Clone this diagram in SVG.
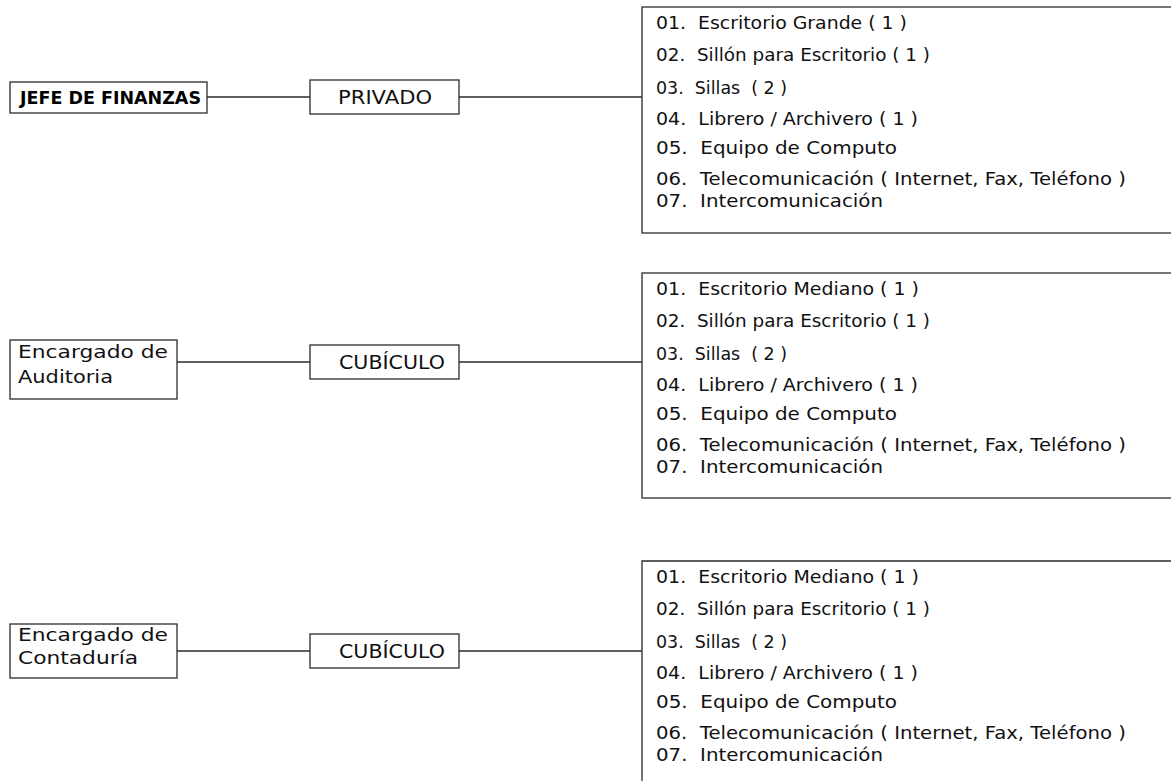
<svg xmlns="http://www.w3.org/2000/svg" width="1171" height="783" viewBox="0 0 1171 783">
  <style>
    text { white-space: pre; }
    .box { fill: #ffffff; stroke: #2b2b2b; stroke-width: 1.3; }
    .wire { stroke: #2b2b2b; stroke-width: 1.5; fill: none; }
    .item { font-family: "DejaVu Sans", "Liberation Sans", sans-serif; font-size: 17.5px; fill: #111; }
    .who { font-family: "DejaVu Sans", "Liberation Sans", sans-serif; font-size: 18px; fill: #111; }
    .boss { font-family: "DejaVu Sans", "Liberation Sans", sans-serif; font-size: 17px; font-weight: bold; fill: #000; }
    .room { font-family: "DejaVu Sans", "Liberation Sans", sans-serif; font-size: 19px; fill: #111; text-anchor: middle; }
  </style>
  <rect width="1171" height="783" fill="#ffffff"/>

  <!-- connectors -->
  <g id="connectors">
    <line class="wire" x1="207" y1="97" x2="310" y2="97"/>
    <line class="wire" x1="459" y1="97" x2="642" y2="97"/>
    <line class="wire" x1="177" y1="362" x2="310" y2="362"/>
    <line class="wire" x1="459" y1="362" x2="642" y2="362"/>
    <line class="wire" x1="177" y1="651" x2="310" y2="651"/>
    <line class="wire" x1="459" y1="651" x2="642" y2="651"/>
  </g>

  <!-- row 1: head of finance -->
  <g id="jefe-finanzas">
    <rect class="box" x="10" y="82" width="197" height="31"/>
    <text class="boss" x="20" y="104" textLength="181" lengthAdjust="spacingAndGlyphs">JEFE DE FINANZAS</text>
  </g>
  <g id="privado">
    <rect class="box" x="310" y="80" width="149" height="34"/>
    <text class="room" x="385" y="104" textLength="94" lengthAdjust="spacingAndGlyphs">PRIVADO</text>
  </g>
  <g id="equipo-privado">
    <rect class="box" x="642" y="7" width="600" height="226"/>
    <text class="item" x="656" y="29" textLength="251" lengthAdjust="spacingAndGlyphs">01.  Escritorio Grande ( 1 )</text>
    <text class="item" x="656" y="61" textLength="274" lengthAdjust="spacingAndGlyphs">02.  Sillón para Escritorio ( 1 )</text>
    <text class="item" x="656" y="94" textLength="131" lengthAdjust="spacingAndGlyphs">03.  Sillas  ( 2 )</text>
    <text class="item" x="656" y="125" textLength="262" lengthAdjust="spacingAndGlyphs">04.  Librero / Archivero ( 1 )</text>
    <text class="item" x="656" y="154" textLength="241" lengthAdjust="spacingAndGlyphs">05.  Equipo de Computo</text>
    <text class="item" x="656" y="185" textLength="470" lengthAdjust="spacingAndGlyphs">06.  Telecomunicación ( Internet, Fax, Teléfono )</text>
    <text class="item" x="656" y="207" textLength="227" lengthAdjust="spacingAndGlyphs">07.  Intercomunicación</text>
  </g>

  <!-- row 2: audit -->
  <g id="encargado-auditoria">
    <rect class="box" x="10" y="340" width="167" height="59"/>
    <text class="who" x="18" y="358" textLength="150" lengthAdjust="spacingAndGlyphs">Encargado de</text>
    <text class="who" x="18" y="383" textLength="95" lengthAdjust="spacingAndGlyphs">Auditoria</text>
  </g>
  <g id="cubiculo-auditoria">
    <rect class="box" x="310" y="345" width="149" height="34"/>
    <text class="room" x="392" y="369" textLength="106" lengthAdjust="spacingAndGlyphs">CUBÍCULO</text>
  </g>
  <g id="equipo-auditoria">
    <rect class="box" x="642" y="273" width="600" height="225"/>
    <text class="item" x="656" y="295" textLength="263" lengthAdjust="spacingAndGlyphs">01.  Escritorio Mediano ( 1 )</text>
    <text class="item" x="656" y="327" textLength="274" lengthAdjust="spacingAndGlyphs">02.  Sillón para Escritorio ( 1 )</text>
    <text class="item" x="656" y="360" textLength="131" lengthAdjust="spacingAndGlyphs">03.  Sillas  ( 2 )</text>
    <text class="item" x="656" y="391" textLength="262" lengthAdjust="spacingAndGlyphs">04.  Librero / Archivero ( 1 )</text>
    <text class="item" x="656" y="420" textLength="241" lengthAdjust="spacingAndGlyphs">05.  Equipo de Computo</text>
    <text class="item" x="656" y="451" textLength="470" lengthAdjust="spacingAndGlyphs">06.  Telecomunicación ( Internet, Fax, Teléfono )</text>
    <text class="item" x="656" y="473" textLength="227" lengthAdjust="spacingAndGlyphs">07.  Intercomunicación</text>
  </g>

  <!-- row 3: accounting -->
  <g id="encargado-contaduria">
    <rect class="box" x="10" y="624" width="167" height="54"/>
    <text class="who" x="18" y="641" textLength="150" lengthAdjust="spacingAndGlyphs">Encargado de</text>
    <text class="who" x="18" y="664" textLength="120" lengthAdjust="spacingAndGlyphs">Contaduría</text>
  </g>
  <g id="cubiculo-contaduria">
    <rect class="box" x="310" y="634" width="149" height="34"/>
    <text class="room" x="392" y="658" textLength="106" lengthAdjust="spacingAndGlyphs">CUBÍCULO</text>
  </g>
  <g id="equipo-contaduria">
    <path class="box" d="M 642 781 V 561 H 1200" fill="none"/>
    <text class="item" x="656" y="583" textLength="263" lengthAdjust="spacingAndGlyphs">01.  Escritorio Mediano ( 1 )</text>
    <text class="item" x="656" y="615" textLength="274" lengthAdjust="spacingAndGlyphs">02.  Sillón para Escritorio ( 1 )</text>
    <text class="item" x="656" y="648" textLength="131" lengthAdjust="spacingAndGlyphs">03.  Sillas  ( 2 )</text>
    <text class="item" x="656" y="679" textLength="262" lengthAdjust="spacingAndGlyphs">04.  Librero / Archivero ( 1 )</text>
    <text class="item" x="656" y="708" textLength="241" lengthAdjust="spacingAndGlyphs">05.  Equipo de Computo</text>
    <text class="item" x="656" y="739" textLength="470" lengthAdjust="spacingAndGlyphs">06.  Telecomunicación ( Internet, Fax, Teléfono )</text>
    <text class="item" x="656" y="761" textLength="227" lengthAdjust="spacingAndGlyphs">07.  Intercomunicación</text>
  </g>
</svg>
